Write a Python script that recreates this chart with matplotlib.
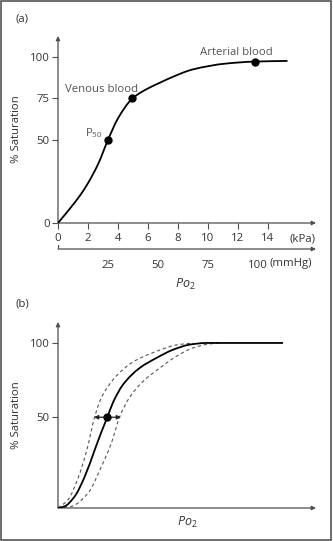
import matplotlib
matplotlib.use("Agg")
import matplotlib.pyplot as plt
from matplotlib.patches import Rectangle, PathPatch
from matplotlib.path import Path

plt.rcParams['font.family'] = ['Open Sans', 'DejaVu Sans']
plt.rcParams['mathtext.fontset'] = 'custom'
plt.rcParams['mathtext.rm'] = 'Open Sans'
plt.rcParams['mathtext.it'] = 'Open Sans:italic'

# ---------------- data ----------------
# Panel (a): oxygen dissociation curve
a_kpa = [0, 1.0, 1.5, 2.0, 2.7, 3.33, 4.0, 4.96, 5.5, 6.1, 6.8, 7.4, 9.0, 11.2, 13.1, 15.3]
a_sat = [0, 11, 17, 24, 36, 50, 63, 75, 78.5, 81.5, 84.5, 87, 92.5, 96, 97.2, 97.6]
a_point_x = [3.33, 4.96, 13.1]
a_point_y = [50, 75, 97.2]
a_point_labels = ["$\\mathrm{P}_{\\mathrm{50}}$", "Venous blood", "Arterial blood"]
a_yticks = [0, 50, 75, 100]
a_kpa_ticks = [0, 2, 4, 6, 8, 10, 12, 14]
a_mmhg_ticks = [25, 50, 75, 100]

# Panel (b): shifted curves
b_x_solid = [0, 0.44, 1.11, 1.78, 2.44, 2.89, 3.29, 3.67, 4.33, 5.44, 6.56, 7.67, 8.78, 9.89, 15.0]
b_solid = [0, 1, 7, 19, 35, 46, 55, 64, 74.7, 84.8, 90.9, 95.9, 99, 100, 100]
b_x_left = [0, 0.67, 1.33, 1.89, 2.44, 2.85, 3.4, 3.89, 5.0, 6.56, 7.89, 9.0]
b_left = [0, 5, 18, 34, 55, 66, 74.5, 80, 88.5, 94.9, 98.8, 100]
b_x_right = [0, 0.89, 2.0, 2.89, 3.56, 4.1, 4.7, 5.67, 6.78, 7.89, 9.0, 10.1, 10.8]
b_right = [0, 1, 9, 25, 39.4, 55, 66, 76.7, 84.8, 91.9, 97, 99.4, 100]
b_p50_x = 3.29
b_p50_y = 55
b_arrow_left = 2.4
b_arrow_right = 4.2
b_ytick_pos = [55, 100]
b_ytick_labels = ["50", "100"]


def smooth_path(x, y):
    """Monotone cubic (Bezier) path through the given points, for drawing."""
    n = len(x)
    h = [x[i + 1] - x[i] for i in range(n - 1)]
    d = [(y[i + 1] - y[i]) / h[i] for i in range(n - 1)]
    m = [0.0] * n
    m[0] = d[0]
    m[-1] = d[-1]
    for k in range(1, n - 1):
        if d[k - 1] * d[k] <= 0:
            m[k] = 0.0
        else:
            w1 = 2 * h[k] + h[k - 1]
            w2 = h[k] + 2 * h[k - 1]
            m[k] = (w1 + w2) / (w1 / d[k - 1] + w2 / d[k])
    verts = [(x[0], y[0])]
    codes = [Path.MOVETO]
    for i in range(n - 1):
        t = h[i] / 3
        verts += [(x[i] + t, y[i] + m[i] * t), (x[i + 1] - t, y[i + 1] - m[i + 1] * t),
                  (x[i + 1], y[i + 1])]
        codes += [Path.CURVE4] * 3
    return Path(verts, codes)


def draw_curve(ax, x, y, **kw):
    ax.add_patch(PathPatch(smooth_path(x, y), fill=False, **kw))


# ---------------- figure ----------------
W, H = 333, 541
fig = plt.figure(figsize=(W / 100, H / 100), dpi=100)
fig.patch.set_facecolor('white')

AX = '#4d4d4d'
TXT = '#333333'
LAB = '#555555'
FS = 8.2

def px_ax(left, top, right, bottom):
    return fig.add_axes([left / W, 1 - bottom / H, (right - left) / W, (bottom - top) / H])

def style_axis(ax, xarrow=True, yarrow=True):
    for s in ax.spines.values():
        s.set_visible(False)
    ap = dict(arrowstyle='-|>', color=AX, lw=0.9, shrinkA=0, shrinkB=0, mutation_scale=6)
    if xarrow:
        ax.annotate('', xy=(1, 0), xytext=(0, 0), xycoords='axes fraction', arrowprops=ap)
    if yarrow:
        ax.annotate('', xy=(0, 1), xytext=(0, 0), xycoords='axes fraction', arrowprops=ap)
    ax.tick_params(direction='out', length=4, width=0.8, color=AX, labelcolor=TXT,
                   labelsize=FS, pad=2)
    ax.set_facecolor('none')

# ----- panel (a) -----
axa = px_ax(58, 36, 316, 223)
style_axis(axa)
axa.set_xlim(0, 17.2)
axa.set_ylim(0, 112.6)
draw_curve(axa, a_kpa, a_sat, edgecolor='black', lw=1.3, zorder=3)
axa.plot(a_point_x, a_point_y, 'o', color='black', ms=5, zorder=4)
axa.set_yticks(a_yticks)
axa.set_xticks(a_kpa_ticks)
axa.tick_params(axis='x', pad=3)
axa.text(3.0, 50, a_point_labels[0], color=LAB, fontsize=FS, ha='right', va='bottom')
axa.text(2.9, 77, a_point_labels[1], color=LAB, fontsize=FS, ha='center', va='bottom')
axa.text(11.9, 99.5, a_point_labels[2], color=LAB, fontsize=FS, ha='center', va='bottom')
axa.text(16.3, -9.6, '(kPa)', color=TXT, fontsize=FS, ha='center', va='center')
axa.set_ylabel('% Saturation', color=TXT, fontsize=FS)
axa.yaxis.set_label_coords(-36 / 258, 0.5)

# mmHg axis
axm = px_ax(58, 245, 316, 249)
style_axis(axm, yarrow=False)
axm.set_xlim(0, 17.2 * 7.50062)
axm.set_ylim(0, 1)
axm.set_yticks([])
axm.set_xticks(a_mmhg_ticks)
axm.tick_params(axis='x', length=0, pad=8)
axm.plot([0, 0], [0, 1], color=AX, lw=0.9)
axm.text(100 + 6, -3.7, '(mmHg)', color=TXT, fontsize=FS, ha='left', va='center',
         transform=axm.transData)

fig.text(185 / W, 1 - 284 / H, r'$Po_{\mathrm{2}}$', color=TXT, fontsize=FS + 0.8,
         ha='center', va='center')
fig.text(22 / W, 1 - 19 / H, '(a)', color=TXT, fontsize=FS, ha='center', va='center')

# ----- panel (b) -----
axb = px_ax(58, 322, 316, 508)
style_axis(axb)
axb.set_xlim(0, 17.2)
axb.set_ylim(0, 112.7)
draw_curve(axb, b_x_left, b_left, edgecolor=LAB, lw=0.8, ls=(0, (3, 2.5)), zorder=2)
draw_curve(axb, b_x_right, b_right, edgecolor=LAB, lw=0.8, ls=(0, (3, 2.5)), zorder=2)
draw_curve(axb, b_x_solid, b_solid, edgecolor='black', lw=1.3, zorder=3)
axb.plot([b_p50_x], [b_p50_y], 'o', color='black', ms=5, zorder=5)
ap2 = dict(arrowstyle='-|>', color='#222222', lw=0.9, shrinkA=0, shrinkB=0, mutation_scale=6)
axb.annotate('', xy=(b_arrow_left, b_p50_y), xytext=(b_p50_x, b_p50_y), arrowprops=ap2, zorder=4)
axb.annotate('', xy=(b_arrow_right, b_p50_y), xytext=(b_p50_x, b_p50_y), arrowprops=ap2, zorder=4)
axb.set_yticks(b_ytick_pos)
axb.set_yticklabels(b_ytick_labels)
axb.set_xticks([])
axb.set_ylabel('% Saturation', color=TXT, fontsize=FS)
axb.yaxis.set_label_coords(-36 / 258, 0.5)
fig.text(187 / W, 1 - 522 / H, r'$Po_{\mathrm{2}}$', color=TXT, fontsize=FS + 0.8,
         ha='center', va='center')
fig.text(22 / W, 1 - 304 / H, '(b)', color=TXT, fontsize=FS, ha='center', va='center')

# frame
fig.add_artist(Rectangle((0.6 / W, 1.5 / H), (W - 2.5) / W, (H - 2.5) / H,
                         transform=fig.transFigure, fill=False, edgecolor='#555555', lw=1.2))

fig.savefig('out.png', dpi=100)
